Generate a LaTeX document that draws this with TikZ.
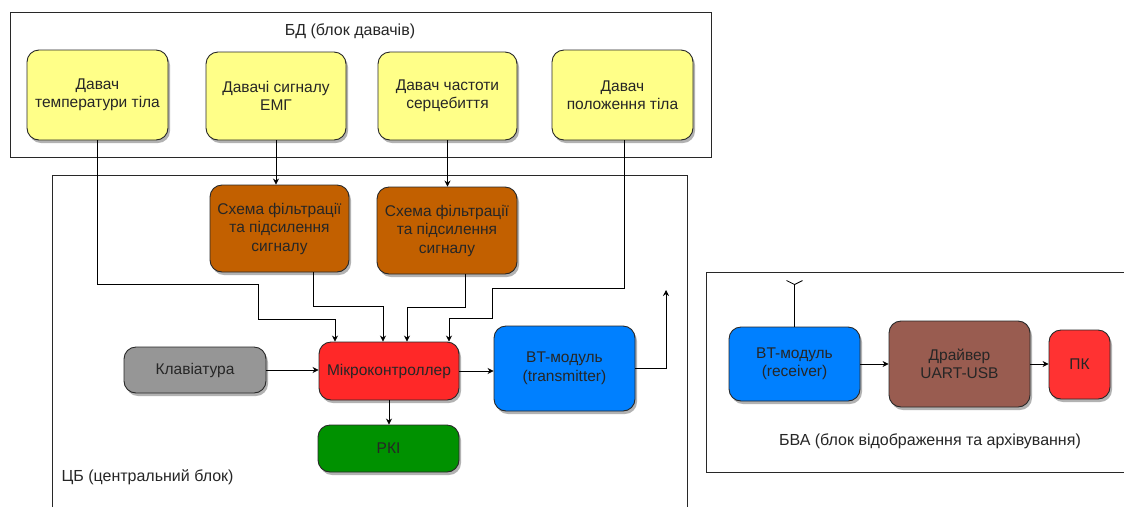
\documentclass[tikz,border=0pt]{standalone}
\usepackage{fontspec}
\setmainfont{Liberation Sans}
\usetikzlibrary{arrows.meta,shadows}
\definecolor{sensorfill}{RGB}{255,255,136}
\definecolor{filterfill}{RGB}{194,96,0}
\definecolor{keyfill}{RGB}{150,150,150}
\definecolor{mcufill}{RGB}{255,40,40}
\definecolor{lcdfill}{RGB}{0,145,0}
\definecolor{btfill}{RGB}{0,128,255}
\definecolor{drvfill}{RGB}{153,92,80}
\definecolor{pcfill}{RGB}{255,50,50}
\definecolor{edge}{RGB}{40,40,40}
\tikzset{
  blk/.style={draw=edge, line width=0.9pt, rounded corners=12pt, align=center,
    text=black!85, font=\fontsize{15.5}{18.5}\selectfont,
    drop shadow={shadow xshift=2pt, shadow yshift=-3pt, opacity=0.3, fill=black}},
  frame/.style={draw=edge, line width=0.9pt},
  wire/.style={draw=black, line width=0.8pt},
  arr/.style={wire, -{Stealth[length=6pt,width=6pt]}},
  lbl/.style={font=\fontsize{16}{19}\selectfont, text=black!85},
}
\begin{document}
\begin{tikzpicture}[x=1pt,y=-1pt]
\useasboundingbox (0,0) rectangle (1124,507);
\fill[white] (0,0) rectangle (1124,507);

% outer frames
\draw[frame] (10,12) rectangle (711,157);
\draw[frame] (52,507) -- (52,175) -- (687,175) -- (687,507);
\draw[frame] (1124,272) -- (706,272) -- (706,472) -- (1124,472);

\node[lbl] (bdlbl) at (350,31) {БД (блок давачів)};
\node[lbl, anchor=west] (cblbl) at (58,477) {ЦБ (центральний блок)};
\node[lbl] (bvalbl) at (930,441) {БВА (блок відображення та архівування)};

% sensor unit
\node[blk, fill=sensorfill, minimum width=141pt, minimum height=90pt] (t1) at (97.5,95) {Давач\\температури тіла};
\node[blk, fill=sensorfill, minimum width=140pt, minimum height=88pt] (t2) at (276,96) {Давачі сигналу\\ЕМГ};
\node[blk, fill=sensorfill, minimum width=139pt, minimum height=88pt] (t3) at (447.5,96) {Давач частоти\\серцебиття};
\node[blk, fill=sensorfill, minimum width=141pt, minimum height=90pt] (t4) at (622.5,95) {Давач\\положення тіла};

% central unit
\node[blk, fill=filterfill, minimum width=139pt, minimum height=87pt] (f1) at (279.5,228.5) {Схема фільтрації\\та підсилення\\сигналу};
\node[blk, fill=filterfill, minimum width=140pt, minimum height=87pt] (f2) at (447,230.5) {Схема фільтрації\\та підсилення\\сигналу};
\node[blk, fill=keyfill, minimum width=142pt, minimum height=46pt] (kb) at (195,370) {Клавіатура};
\node[blk, fill=mcufill, minimum width=140pt, minimum height=58pt] (mc) at (389,371) {Мікроконтроллер};
\node[blk, fill=lcdfill, minimum width=141pt, minimum height=47pt] (lcd) at (388.5,448.5) {РКІ};
\node[blk, fill=btfill, minimum width=141pt, minimum height=85pt] (btt) at (564.5,368.5) {BT-модуль\\(transmitter)};

% display and archive unit
\node[blk, fill=btfill, minimum width=131pt, minimum height=74pt] (btr) at (794.5,364) {BT-модуль\\(receiver)};
\node[blk, fill=drvfill, minimum width=141pt, minimum height=86pt] (drv) at (959.5,364) {Драйвер\\UART-USB};
\node[blk, fill=pcfill, minimum width=61pt, minimum height=69pt] (pc) at (1079.5,364.5) {ПК};

% inputs of the microcontroller
\coordinate (mcin1) at ([xshift=-54pt]mc.north);
\coordinate (mcin2) at ([xshift=-6pt]mc.north);
\coordinate (mcin3) at ([xshift=18pt]mc.north);
\coordinate (mcin4) at ([xshift=60pt]mc.north);

\draw[arr] (t1.south) |- (258,284) |- ([yshift=22pt]mcin1) -- (mcin1);
\draw[arr] (t2.south) -- (t2.south |- f1.north);
\draw[arr] (t3.south) -- (t3.south |- f2.north);
\draw[arr] ([xshift=33.5pt]f1.south) |- ([yshift=35pt]mcin2) -- (mcin2);
\draw[arr] ([xshift=18pt]f2.south) |- ([yshift=34pt]mcin3) -- (mcin3);
\draw[arr] ([xshift=1.5pt]t4.south) |- (492,288) |- ([yshift=23pt]mcin4) -- (mcin4);

\draw[arr] (kb.east) -- (kb.east -| mc.west);
\draw[arr] (mc.east) -- (mc.east -| btt.west);
\draw[arr] (mc.south) -- (mc.south |- lcd.north);

% radio link
\coordinate (txant) at (666,290);
\draw[arr] (btt.east) -| (txant);
\draw[wire] (btr.north) -- ++(0,-42) coordinate (rxant);
\draw[wire] (rxant) -- ++(-8,-4) (rxant) -- ++(8,-4);

\draw[arr] (btr.east) -- (btr.east -| drv.west);
\draw[arr] (drv.east) -- (drv.east -| pc.west);
\end{tikzpicture}
\end{document}
